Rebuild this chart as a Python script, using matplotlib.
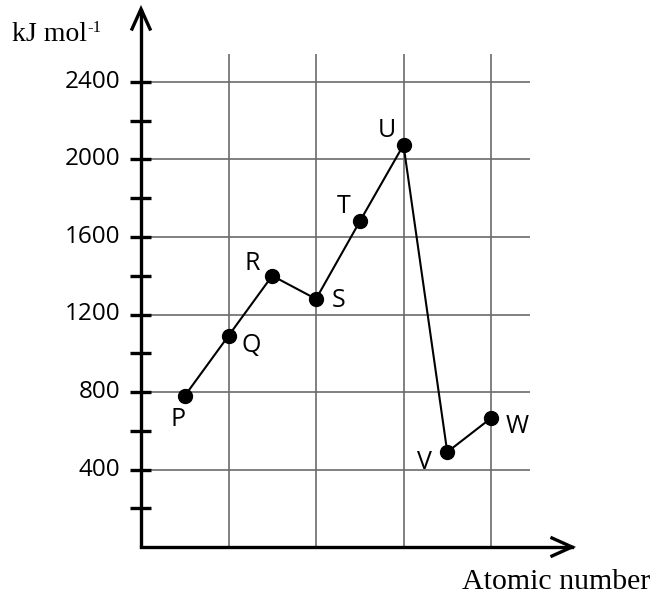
import matplotlib
matplotlib.use("Agg")
import matplotlib.pyplot as plt

# ---- data ----
labels = ['P', 'Q', 'R', 'S', 'T', 'U', 'V', 'W']
energy = [780, 1090, 1400, 1280, 1680, 2075, 490, 665]
ytick_values = [400, 800, 1200, 1600, 2000, 2400]
minor_tick_values = [200, 400, 600, 800, 1000, 1200, 1400, 1600, 1800, 2000, 2200, 2400]
vgrid_positions = [2, 4, 6, 8]
positions = list(range(1, len(labels) + 1))

# label offsets in pixels (layout)
label_offsets = {
    'P': (-7, -24), 'Q': (23, -10), 'R': (-20, 12), 'S': (23, -2),
    'T': (-16, 15), 'U': (-17, 14), 'V': (-23, -10), 'W': (26, -8),
}

W, H = 670, 595
fig = plt.figure(figsize=(W / 100, H / 100), dpi=100)
ax = fig.add_axes([0, 0, 1, 1])

# pixel mapping: origin at (141, 547) px; 43.75 px per x unit; 0.19375 px per y unit
x0px, y0px = 141, 547
sx, sy = 43.75, 0.19375
ax.set_xlim(-x0px / sx, (W - x0px) / sx)
ax.set_ylim(-(H - y0px) / sy, y0px / sy)
ax.axis('off')

def dx(px):
    return px / sx

def dy(px):
    return px / sy

grid_col = '#6b6b6b'
grid_top = dy(547 - 54)
grid_right = dx(530 - 141)

for xv in vgrid_positions:
    ax.plot([xv, xv], [0, grid_top], color=grid_col, lw=1.2, zorder=1, solid_capstyle='butt')
for yv in ytick_values:
    ax.plot([0, grid_right], [yv, yv], color=grid_col, lw=1.2, zorder=1, solid_capstyle='butt')

# axes lines with arrows
ytop = dy(547 - 9)
xright = dx(572 - 141)
ax.plot([0, 0], [0, ytop], color='black', lw=2.4, zorder=3, solid_capstyle='butt')
ax.plot([0, xright], [0, 0], color='black', lw=2.4, zorder=3, solid_capstyle='projecting')
ax.plot([-dx(9), 0, dx(9)], [ytop - dy(20), ytop, ytop - dy(20)], color='black', lw=2.4,
        zorder=3, solid_joinstyle='miter')
ax.plot([xright - dx(20), xright, xright - dx(20)], [dy(9), 0, -dy(9)], color='black', lw=2.4,
        zorder=3, solid_joinstyle='miter')

# tick marks
for yv in minor_tick_values:
    ax.plot([-dx(11), dx(10)], [yv, yv], color='black', lw=2.4, zorder=3, solid_capstyle='butt')

# tick labels
for yv in ytick_values:
    ax.text(-dx(21), yv, str(yv), ha='right', va='center', fontsize=17.5,
            family='Open Sans', color='black')

# data
ax.plot(positions, energy, color='black', lw=1.5, zorder=4)
ax.plot(positions, energy, 'o', color='black', markersize=10, zorder=5)

for xp, yv, lab in zip(positions, energy, labels):
    ox, oy = label_offsets[lab]
    ax.annotate(lab, (xp, yv), xytext=(ox, oy), textcoords='offset pixels',
                ha='center', va='center', fontsize=18, family='Open Sans')

# axis titles
t = ax.text(dx(12 - 141), dy(547 - 41), 'kJ mol', ha='left', va='baseline',
            fontsize=20, family='Liberation Serif')
fig.canvas.draw()
bb = t.get_window_extent(renderer=fig.canvas.get_renderer())
fig.text(bb.x1 / W, (H - 32) / H, '-1', ha='left', va='baseline', fontsize=12,
         family='Liberation Serif')
ax.text(dx(650 - 141), -dy(589 - 547), 'Atomic number', ha='right', va='baseline',
        fontsize=21.5, family='Liberation Serif')

fig.savefig('out.png', dpi=100)
